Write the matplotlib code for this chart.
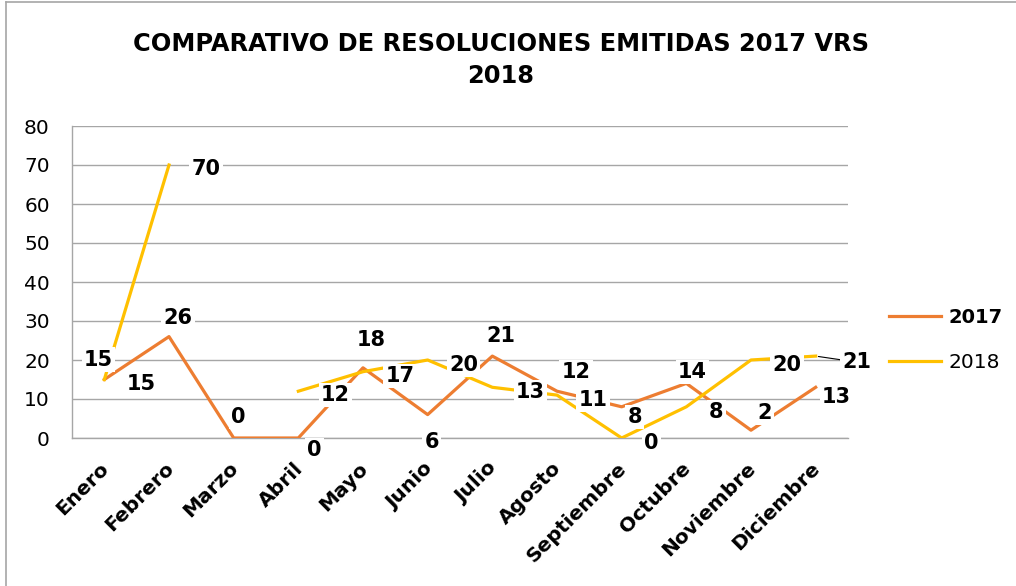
import numpy as np
import matplotlib.pyplot as plt
import matplotlib.transforms as mtransforms
from matplotlib.lines import Line2D

# Resoluciones emitidas por mes, 2017 vs 2018

meses = ['Enero', 'Febrero', 'Marzo', 'Abril', 'Mayo', 'Junio', 'Julio',
         'Agosto', 'Septiembre', 'Octubre', 'Noviembre', 'Diciembre']
res_2017 = [15, 26, 0, 0, 18, 6, 21, 12, 8, 14, 2, 13]
res_2018 = [15, 70, np.nan, 12, 17, 20, 13, 11, 0, 8, 20, 21]  # marzo sin dato

# where each data label sits relative to its point (pixels, y up)
off_2017 = [(37, -2), (9, 21), (5, 23), (16, -10), (8, 30), (4, -25),
            (9, 22), (19, 21), (13, -8), (6, 13), (14, 19), (21, -8)]
off_2018 = [(-6, 22), (37, -2), None, (37, -2), (37, -2), (36, -3),
            (38, -3), (36, -3), (30, -3), (30, -3), (36, -3), (41, -4)]

naranja = '#ED7D31'
amarillo = '#FFC000'
gris = '#A6A6A6'

plt.rcParams['font.family'] = ['DejaVu Sans']

fig = plt.figure(figsize=(10.16, 5.86), dpi=100)
ax = fig.add_axes([72/1016, 148/586, 776/1016, 312/586])

x = np.arange(len(meses))
ax.plot(x, res_2017, color=naranja, lw=2.3, label='2017', zorder=3)
ax.plot(x, res_2018, color=amarillo, lw=2.3, label='2018', zorder=3)

box = dict(facecolor='white', edgecolor='none', pad=1.5)
for i, v in enumerate(res_2017):
    ax.annotate(str(v), (x[i], v), xytext=off_2017[i], textcoords='offset pixels',
                ha='center', va='center_baseline', fontsize=15, fontweight='bold',
                bbox=box, zorder=5)
for i, v in enumerate(res_2018):
    if off_2018[i] is None:
        continue
    extra = {}
    if i == len(meses) - 1:
        extra['arrowprops'] = dict(arrowstyle='-', color='black', lw=0.8,
                                   shrinkA=0, shrinkB=2)
    ax.annotate(str(int(v)), (x[i], v), xytext=off_2018[i], textcoords='offset pixels',
                ha='center', va='center_baseline', fontsize=15, fontweight='bold',
                bbox=box, zorder=5, **extra)

ax.set_xlim(-0.5, len(meses) - 0.5)
ax.set_ylim(0, 80)
ax.set_yticks(range(0, 81, 10))
ax.set_xticks(x)
ax.set_xticklabels(meses, rotation=45, ha='right', va='top', rotation_mode='anchor',
                   fontsize=14.5, fontweight='bold')
ax.tick_params(axis='x', length=0, pad=15)
ax.tick_params(axis='y', length=0, pad=16, labelsize=14.5)

# nudge month labels a little to the left
shift = mtransforms.ScaledTranslation(-5/100, 0, fig.dpi_scale_trans)
for lbl in ax.get_xticklabels():
    lbl.set_transform(lbl.get_transform() + shift)

ax.grid(axis='y', color=gris, lw=1)
ax.set_axisbelow(True)
for s in ['top', 'right']:
    ax.spines[s].set_visible(False)
for s in ['left', 'bottom']:
    ax.spines[s].set_color(gris)
    ax.spines[s].set_linewidth(1)

leg = ax.legend(loc='center left', bbox_to_anchor=(1.053, 0.314), frameon=False,
                fontsize=14.5, handlelength=2.6, handletextpad=0.35,
                labelspacing=1.25, borderpad=0, borderaxespad=0)
leg.get_texts()[0].set_fontweight('bold')
leg.get_texts()[0].set_fontsize(14)

fig.text(0.493, 1 - 60/586, 'COMPARATIVO DE RESOLUCIONES EMITIDAS 2017 VRS\n2018',
         ha='center', va='center', multialignment='center', fontsize=17.4,
         fontweight='bold', linespacing=1.4)

# marco gris arriba e izquierda
fig.add_artist(Line2D([6/1016, 6/1016], [0, 584/586], transform=fig.transFigure,
                      color=gris, lw=1.2))
fig.add_artist(Line2D([6/1016, 1], [584/586, 584/586], transform=fig.transFigure,
                      color=gris, lw=1.2))

fig.savefig('out.png', dpi=100)
